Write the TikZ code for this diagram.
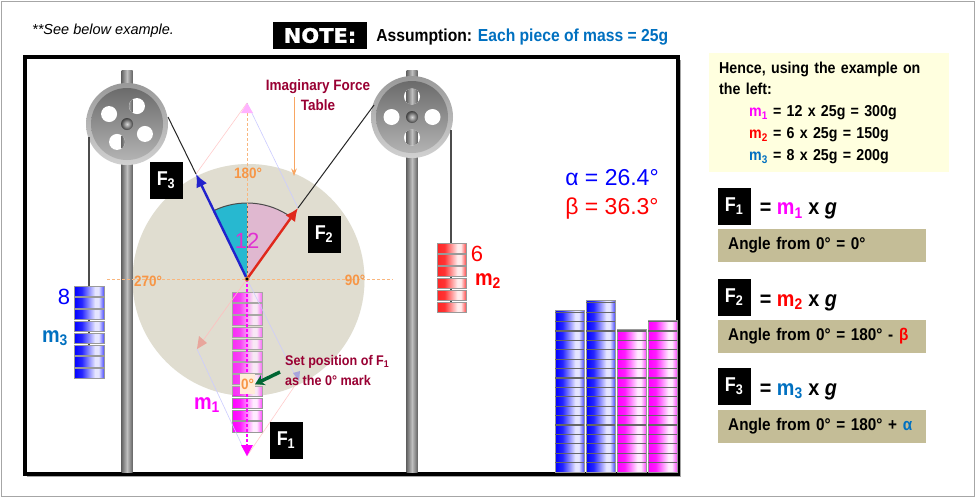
\documentclass[tikz,border=0pt]{standalone}
\usepackage{fontspec}
\setmainfont[FakeStretch=0.9]{Liberation Sans}
\newfontfamily\plainfont{Liberation Sans}
\newfontfamily\notefont[FakeBold=1.5,FakeStretch=1.05]{DejaVu Sans}
\usepackage{xcolor}
\usetikzlibrary{arrows.meta, calc, positioning}

\definecolor{deepblue}{HTML}{0070C0}
\definecolor{maroonlbl}{HTML}{990033}
\definecolor{orangelbl}{HTML}{F79646}
\definecolor{tablegrey}{HTML}{E0DDD0}
\definecolor{panelyellow}{HTML}{FFFFDF}
\definecolor{paneltan}{HTML}{C4BD97}
\definecolor{sectorteal}{HTML}{27B8D0}
\definecolor{sectorpink}{HTML}{E0B8D0}
\definecolor{arrowblue}{HTML}{2222CC}
\definecolor{arrowred}{HTML}{E0281C}
\definecolor{magentalbl}{HTML}{FF00FF}
\definecolor{countpink}{HTML}{E030D0}
\definecolor{markgreen}{HTML}{006633}

\pgfdeclarehorizontalshading{pieceblue}{100bp}{color(0bp)=(blue);color(25bp)=(blue);color(38bp)=(blue!85);color(60bp)=(blue!10);color(66bp)=(blue!10);color(75bp)=(blue!70);color(100bp)=(blue!70)}
\pgfdeclarehorizontalshading{piecered}{100bp}{color(0bp)=(red);color(25bp)=(red!85);color(38bp)=(red!80);color(60bp)=(red!8);color(66bp)=(red!8);color(75bp)=(red!70);color(100bp)=(red!70)}
\pgfdeclarehorizontalshading{piecemag}{100bp}{color(0bp)=(magentalbl);color(25bp)=(magentalbl);color(38bp)=(magentalbl!90);color(60bp)=(magentalbl!8);color(66bp)=(magentalbl!8);color(75bp)=(magentalbl!70);color(100bp)=(magentalbl!70)}
\pgfdeclarehorizontalshading{postshade}{100bp}{color(0bp)=(black!60);color(25bp)=(black!60);color(50bp)=(black!25);color(75bp)=(black!60);color(100bp)=(black!60)}

\begin{document}
\begin{tikzpicture}[x=1pt,y=-1pt,
        tag/.style={fill=black, text=white, font=\fontsize{20}{22}\selectfont\bfseries, minimum width=33pt, minimum height=37pt, inner sep=0pt},
        tanbar/.style={fill=paneltan, text=black, font=\fontsize{17}{20}\selectfont\bfseries, anchor=west, minimum height=33pt, text width=188pt, inner xsep=10pt, inner ysep=0pt},
        equation/.style={font=\fontsize{22}{24}\selectfont\bfseries, inner sep=0pt, yshift=-5pt},
        toplabel/.style={font=\fontsize{15}{20}\selectfont\bfseries, text=maroonlbl, align=center, inner sep=0pt},
        degree/.style={font=\fontsize{15}{16}\selectfont\bfseries, text=orangelbl, inner sep=0pt},
        stacklabel/.style={font=\fontsize{22}{24}\selectfont\bfseries, inner sep=0pt},
        countlabel/.style={font=\plainfont\fontsize{22}{24}\selectfont, inner sep=0pt},
        piece/.style={draw=black!40, line width=0.8pt, shade, shading=#1},
        rope/.style={draw=black!70, line width=1.3pt},
        guide/.style={line width=0.6pt},
        force/.style={line width=2.4pt, -{Latex[length=13pt,width=12pt]}},
        >=Stealth]
    \useasboundingbox (0,0) rectangle (976,498);

    % page and frame
    \draw[black!35, line width=1pt] (1,1) rectangle (974,496);
    \fill[black!35] (27,60) rectangle (681,477);
    \draw[fill=white, draw=black, line width=4pt] (24.5,56.5) rectangle (678,474);

    \coordinate (center) at (247,279);
    \coordinate (tablemid) at (248.5,280);
    \coordinate (tipone) at (247,456);
    \coordinate (tiptwo) at (298,208);
    \coordinate (tipthree) at (196,174);
    \coordinate (apex) at (247,103);
    \coordinate (backtwo) at (197,349);
    \coordinate (backthree) at (298,381);

    % table
    \fill[tablegrey] (tablemid) circle (116);

    % mass 1 stack
    \foreach \i in {0,...,11}
        \path[piece=piecemag] (232,292+11.8*\i) rectangle (262,302.2+11.8*\i);
    \fill[tablegrey, fill opacity=0.2] (tablemid) circle (116);

    % sector
    \fill[sectorteal] (center) -- ++(-90:76) arc (-90:-116:76) -- cycle;
    \fill[sectorpink] (center) -- ++(-90:76) arc (-90:-54:76) -- cycle;
    \draw[black!70, line width=1pt] (center) ++(-116:76) arc (-116:-54:76);
    \draw[black!60, densely dashed, line width=0.6pt] (center) -- ++(0,-76);

    % posts and pulleys
    \foreach \px/\py/\rot in {127/124/29, 412/117/0} {
        \path[shade, shading=postshade] (\px-5.5,70) rectangle (\px+5.5,472);
        \shade[top color=black!40, bottom color=black!18] (\px,\py) circle (41);
        \shade[top color=black!58, bottom color=black!30] (\px,\py) circle (36);
        \foreach \a in {0,90,180,270} {
            \fill[white] ($(\px,\py)+(\a+\rot:20.5)$) circle (8);
            \begin{scope}
                \clip ($(\px,\py)+(\a+\rot:20.5)$) circle (8);
                \path[shade, shading=postshade] (\px-5.5,70) rectangle (\px+5.5,472);
            \end{scope}
        }
        \shade[inner color=black!15, outer color=black!75] (\px,\py) circle (6);
    }

    % guide lines and ghost forces
    \draw[orangelbl!70, densely dashed, line width=1pt] (107,279) -- (393,279);
    \draw[orangelbl!70, densely dashed, line width=1pt] (apex) -- (center);
    \draw[red!20, guide] (tipthree) -- (apex);
    \draw[blue!20, guide] (apex) -- (tiptwo);
    \draw[red!25, guide] (center) -- (backtwo);
    \draw[blue!20, guide] (center) -- (backthree);
    \draw[blue!20, guide] (backtwo) -- (tipone);
    \draw[red!20, guide] (backthree) -- (tipone);
    \fill[magentalbl!30] (apex) -- ++(-6,10) -- ++(12,0) -- cycle;
    \fill[red!25!tablegrey] (backtwo) -- ++(10,-6) -- ++(-8,-7) -- cycle;
    \fill[blue!25!tablegrey] (backthree) ++(-5,-8) -- ++(7,-2) -- ++(-1,10) -- cycle;

    % strings
    \draw[rope, black!85, line width=1pt] (tipthree) -- (168,117);
    \draw[rope, black!85, line width=1pt] (tiptwo) -- (374,105);
    \draw[rope] (89,137) -- (89,286);
    \draw[rope] (451,130) -- (451,243);

    % force arrows
    \draw[force, arrowblue] (center) -- (tipthree);
    \draw[force, arrowred] (center) -- (tiptwo);
    \draw[magentalbl, densely dashed, line width=1.5pt] (center) -- (247,445);
    \fill[magentalbl] (tipone) -- ++(-6,-11) -- ++(12,0) -- cycle;
    \fill[black] (center) circle (2);
    \draw[orangelbl, line width=0.7pt] (center) circle (2);

    % stacks on the pulleys
    \draw[rope] (89,286) -- (89,378);
    \foreach \i in {0,...,7}
        \path[piece=pieceblue] (74,286+11.8*\i) rectangle (104,296.2+11.8*\i);
    \draw[rope] (451,243) -- (451,310);
    \foreach \i in {0,...,5}
        \path[piece=piecered] (437,243+11.8*\i) rectangle (466,253.2+11.8*\i);

    % spare bars
    \foreach \bx/\btop/\bcount/\bshade in {555/310/17/pieceblue, 586/300/18/pieceblue, 617/329/15/piecemag, 648/320/16/piecemag} {
        \path[piece=\bshade] (\bx,\btop) rectangle (\bx+29,472);
        \foreach \j in {1,...,\bcount}
            \draw[black!60, line width=1.3pt] (\bx,472-9.4*\j) -- (\bx+29,472-9.4*\j);
    }

    % labels on the picture
    \node[tag] (fthree) at (166,180) {F\textsubscript{3}};
    \node[tag] (ftwo) at (324,234) {F\textsubscript{2}};
    \node[tag] (fone) at (286,440) {F\textsubscript{1}};
    \node[degree] (degtop) at (248,173) {180°};
    \node[degree] (degleft) at (148,281) {270°};
    \node[degree] (degright) at (355,280) {90°};
    \node[degree, fill=orange!15, minimum width=15pt, minimum height=20pt] (degzero) at (247.5,384) {0°};
    \node[countlabel, text=countpink] (countone) at (247,241) {12};
    \node[countlabel, text=red] (counttwo) at (477,254) {6};
    \node[countlabel, text=blue] (countthree) at (64,297) {8};
    \node[stacklabel, text=magentalbl] (massone) at (207,405) {m\textsubscript{1}};
    \node[stacklabel, text=red] (masstwo) at (488,281) {m\textsubscript{2}};
    \node[stacklabel, text=deepblue] (massthree) at (55,338) {m\textsubscript{3}};

    \node[toplabel] (tablelbl) at (318,95) {Imaginary Force\\Table};
    \coordinate (tablefrom) at (294,97);
    \coordinate (tableto) at (294,176);
    \draw[orangelbl!85, line width=1pt, ->] (tablefrom) -- (tableto);
    \node[toplabel, font=\fontsize{14}{20}\selectfont\bfseries, align=left, anchor=west] (setlbl) at (285,370) {Set position of F\textsubscript{1}\\as the 0° mark};
    \coordinate (markfrom) at (280,372);
    \draw[markgreen, line width=3.5pt, -{Stealth[length=9pt,width=11pt]}] (markfrom) -- (degzero.east);

    \node[font=\plainfont\fontsize{23}{24}\selectfont, text=blue, inner sep=0pt] (alphalbl) at (612,178) {α = 26.4°};
    \node[font=\plainfont\fontsize{23}{24}\selectfont, text=red, inner sep=0pt] (betalbl) at (612,209) {β = 36.3°};

    % header
    \node[font=\plainfont\itshape\fontsize{14.5}{16}\selectfont, anchor=west, inner sep=0pt] (seelbl) at (32,31) {**See below example.};
    \node[fill=black, text=white, font=\notefont\fontsize{20}{22}\selectfont\bfseries, minimum width=94pt, minimum height=27pt, inner sep=0pt] (note) at (320,35.5) {NOTE:};
    \node[font=\fontsize{17.4}{20}\selectfont\bfseries, anchor=west, inner sep=0pt, right=9pt of note, yshift=-2pt] (assume) {Assumption: \textcolor{deepblue}{Each piece of mass = 25g}};

    % right panel
    \node[fill=panelyellow, anchor=north west, minimum width=240pt, minimum height=119pt, text width=220pt, inner xsep=10pt, inner ysep=0pt, align=left,
          font=\fontsize{15.8}{21.8}\selectfont\bfseries] (hence) at (709,53) {%
        Hence, using the example on\\the left:\\
        \hspace*{30pt}\textcolor{magentalbl}{m\textsubscript{1}} = 12 x 25g = 300g\\
        \hspace*{30pt}\textcolor{red}{m\textsubscript{2}} = 6 x 25g = 150g\\
        \hspace*{30pt}\textcolor{deepblue}{m\textsubscript{3}} = 8 x 25g = 200g};

    \node[tag] (panelone) at (734,206) {F\textsubscript{1}};
    \node[equation, right=9pt of panelone] (eqone) {= \textcolor{magentalbl}{m\textsubscript{1}} x \textit{g}};
    \node[tanbar] (angleone) at (718,245) {Angle from 0° = 0°};

    \node[tag] (paneltwo) at (734,297.5) {F\textsubscript{2}};
    \node[equation, right=9pt of paneltwo] (eqtwo) {= \textcolor{red}{m\textsubscript{2}} x \textit{g}};
    \node[tanbar] (angletwo) at (718,336.5) {Angle from 0° = 180° - \textcolor{red}{β}};

    \node[tag] (panelthree) at (734,386.5) {F\textsubscript{3}};
    \node[equation, right=9pt of panelthree] (eqthree) {= \textcolor{deepblue}{m\textsubscript{3}} x \textit{g}};
    \node[tanbar] (anglethree) at (718,426) {Angle from 0° = 180° + \textcolor{deepblue}{α}};
\end{tikzpicture}
\end{document}
